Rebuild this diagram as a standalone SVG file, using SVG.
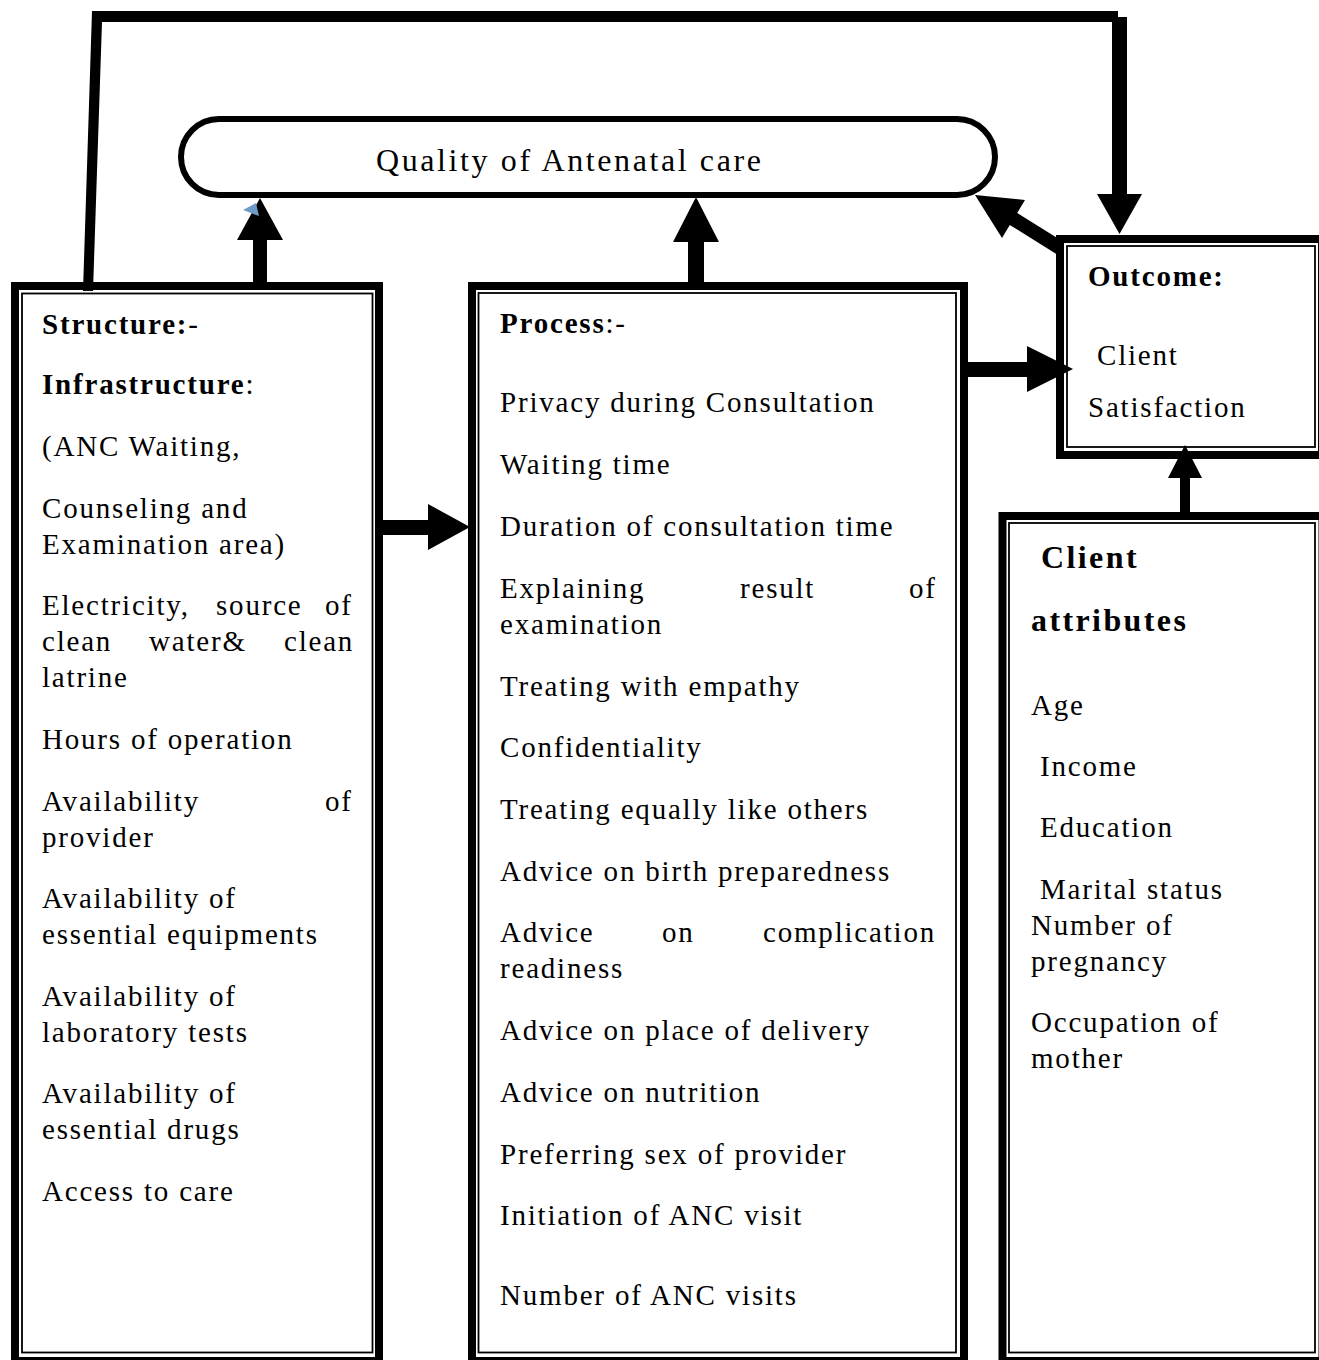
<svg xmlns="http://www.w3.org/2000/svg" width="1319" height="1360" viewBox="0 0 1319 1360">
<style>
.t{font-family:"Liberation Serif","Times New Roman",serif;font-size:29px;letter-spacing:1.8px;fill:#000}
.b{font-weight:bold}
.big{font-size:32px;letter-spacing:2.4px}
.ttl{font-size:32px;letter-spacing:2.6px}
.outer{fill:none;stroke:#000;stroke-width:8}
.inner{fill:none;stroke:#000;stroke-width:1.8}
.arr{fill:#000;stroke:none}
</style>
<rect width="1319" height="1360" fill="#fff"/>

<g id="quality">
<rect x="181" y="119" width="814" height="76" rx="38" ry="38" fill="#fff" stroke="#000" stroke-width="6"/>
<text class="t ttl" x="376" y="171">Quality of Antenatal care</text>
</g>

<g id="structure">
<rect class="outer" x="15" y="286" width="364" height="1075"/>
<rect class="inner" x="22" y="293.5" width="350.5" height="1059"/>
<text class="t" x="42" y="334"><tspan class="b">Structure:</tspan>-</text>
<text class="t" x="42" y="394"><tspan class="b">Infrastructure</tspan>:</text>
<text class="t" x="42" y="456">(ANC Waiting,</text>
<text class="t" x="42" y="518">Counseling and</text>
<text class="t" x="42" y="554">Examination area)</text>
<text class="t" x="42" y="615">Electricity,</text>
<text class="t" x="216" y="615">source</text>
<text class="t" x="325" y="615">of</text>
<text class="t" x="42" y="651">clean</text>
<text class="t" x="149" y="651">water&amp;</text>
<text class="t" x="284" y="651">clean</text>
<text class="t" x="42" y="687">latrine</text>
<text class="t" x="42" y="749">Hours of operation</text>
<text class="t" x="42" y="811">Availability</text>
<text class="t" x="325" y="811">of</text>
<text class="t" x="42" y="847">provider</text>
<text class="t" x="42" y="908">Availability of</text>
<text class="t" x="42" y="944">essential equipments</text>
<text class="t" x="42" y="1006">Availability of</text>
<text class="t" x="42" y="1042">laboratory tests</text>
<text class="t" x="42" y="1103">Availability of</text>
<text class="t" x="42" y="1139">essential drugs</text>
<text class="t" x="42" y="1201">Access to care</text>
</g>

<g id="process">
<rect class="outer" x="472" y="286" width="492" height="1075"/>
<rect class="inner" x="478.5" y="293" width="477.5" height="1059.5"/>
<text class="t" x="500" y="333"><tspan class="b">Process</tspan>:-</text>
<text class="t" x="500" y="412">Privacy during Consultation</text>
<text class="t" x="500" y="474">Waiting time</text>
<text class="t" x="500" y="536">Duration of consultation time</text>
<text class="t" x="500" y="598">Explaining</text>
<text class="t" x="740" y="598">result</text>
<text class="t" x="909" y="598">of</text>
<text class="t" x="500" y="634">examination</text>
<text class="t" x="500" y="696">Treating with empathy</text>
<text class="t" x="500" y="757">Confidentiality</text>
<text class="t" x="500" y="819">Treating equally like others</text>
<text class="t" x="500" y="881">Advice on birth preparedness</text>
<text class="t" x="500" y="942">Advice</text>
<text class="t" x="662" y="942">on</text>
<text class="t" x="763" y="942">complication</text>
<text class="t" x="500" y="978">readiness</text>
<text class="t" x="500" y="1040">Advice on place of delivery</text>
<text class="t" x="500" y="1102">Advice on nutrition</text>
<text class="t" x="500" y="1164">Preferring sex of provider</text>
<text class="t" x="500" y="1225">Initiation of ANC visit</text>
<text class="t" x="500" y="1305">Number of ANC visits</text>
</g>

<g id="outcome">
<rect class="outer" x="1060" y="239" width="262" height="216"/>
<rect class="inner" x="1067" y="246" width="248" height="201"/>
<text class="t b" x="1088" y="286">Outcome:</text>
<text class="t" x="1097" y="365">Client</text>
<text class="t" x="1088" y="417">Satisfaction</text>
</g>

<g id="client-attributes">
<rect class="outer" x="1002.5" y="516" width="320" height="845"/>
<rect class="inner" x="1009" y="523" width="306" height="829.5"/>
<text class="t b big" x="1041" y="568">Client</text>
<text class="t b big" x="1031" y="631">attributes</text>
<text class="t" x="1031" y="715">Age</text>
<text class="t" x="1040" y="776">Income</text>
<text class="t" x="1040" y="837">Education</text>
<text class="t" x="1040" y="899">Marital status</text>
<text class="t" x="1031" y="935">Number of</text>
<text class="t" x="1031" y="971">pregnancy</text>
<text class="t" x="1031" y="1032">Occupation of</text>
<text class="t" x="1031" y="1068">mother</text>
</g>

<g id="connectors">
<polygon class="arr" points="83,291 92,11 1118,11 1118,17 1127,17 1127,194 1142,194 1119.5,234 1097,194 1112,194 1112,22 102,22 93,291"/>
<polygon class="arr" points="253,284 253,240 237,240 260,198 283,240 267,240 267,284"/>
<polygon points="243,210 256,203 259,216" fill="#6f9cc7"/>
<polygon class="arr" points="688,284 688,242 673,242 696,197 719,242 704,242 704,284"/>
<polygon class="arr" points="381,520 428,520 428,504 470,527 428,550 428,535 381,535"/>
<polygon class="arr" points="966,362 1027,362 1027,346 1073,369 1027,392 1027,377 966,377"/>
<polygon class="arr" points="1180,514 1180,478 1168,478 1185,445 1202,478 1190,478 1190,514"/>
<polygon class="arr" points="975,195 1025,200 1017.2,213.1 1063.7,242.1 1056.3,253.9 1009.8,224.9 1002,238"/>
</g>
</svg>
